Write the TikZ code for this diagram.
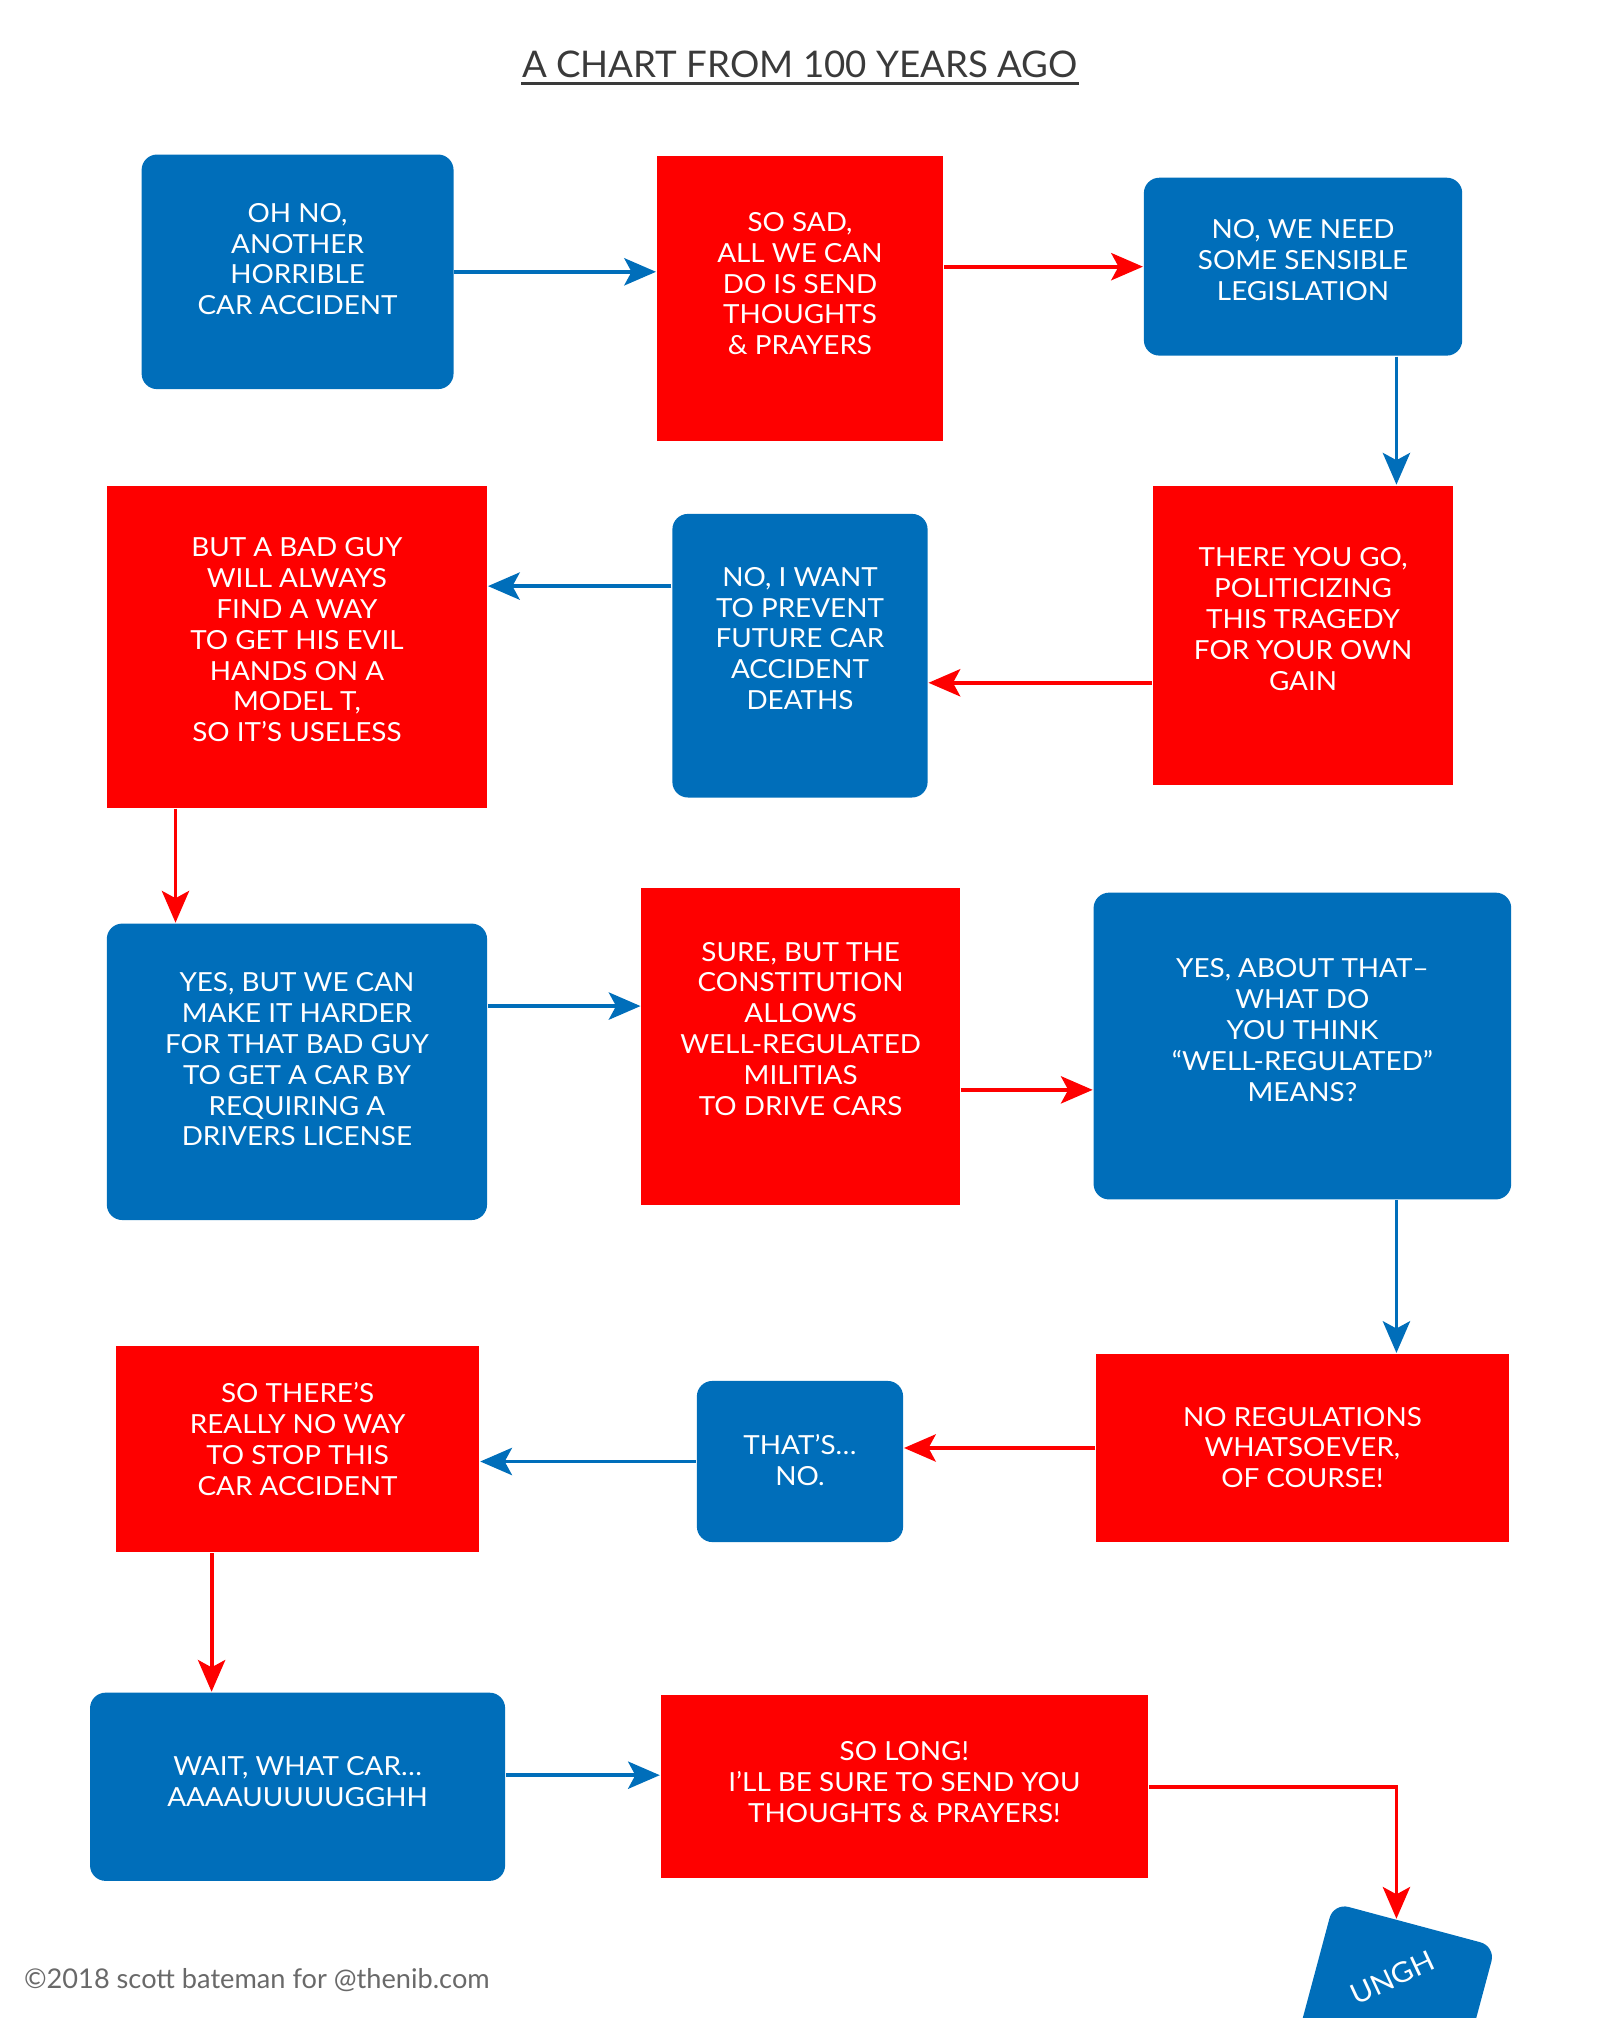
\documentclass[tikz,border=0pt]{standalone}
\usepackage{fontspec}
\setmainfont{Lato}
\newfontfamily\boxfont{Lato}[FakeStretch=1.06]
\usetikzlibrary{arrows.meta}

\definecolor{chartblue}{RGB}{0,110,186}
\definecolor{chartred}{RGB}{254,0,0}
\definecolor{titlegray}{RGB}{58,58,58}
\definecolor{notegray}{RGB}{105,105,105}

% text block of a box, lifted a little above the middle
\newcommand{\boxtext}[2][0pt]{\raisebox{#1}[\height][\depth]{\begin{tabular}{@{}c@{}}#2\end{tabular}}}

\begin{document}
\begin{tikzpicture}[x=0.01cm, y=-0.01cm,
  bluebox/.style={fill=chartblue, text=white, rounded corners=0.12cm, inner sep=0pt,
    font=\boxfont\fontsize{5.8}{6.8}\selectfont},
  redbox/.style={fill=chartred, text=white, inner sep=0pt,
    font=\boxfont\fontsize{5.8}{6.8}\selectfont},
  bluearrow/.style={draw=chartblue, line width=0.85pt, -{Stealth[length=7pt,width=6pt,inset=1.6pt]}},
  redarrow/.style={draw=chartred, line width=0.85pt, -{Stealth[length=7pt,width=6pt,inset=1.6pt]}}]

\useasboundingbox (0,0) rectangle (1242,1566.5);
\clip (0,0) rectangle (1242,1566.5);

%Title
\node[font=\fontsize{8.1}{9.5}\selectfont, text=titlegray, inner xsep=0pt, inner ysep=1pt] (title) at (621,50) {A CHART FROM 100 YEARS AGO};
\draw[titlegray, line width=0.7pt] (title.south west) -- (title.south east);

%Row 1
\node[bluebox, minimum width=2.42cm, minimum height=1.82cm] (ohno) at (231,211)
  {\boxtext[2.1pt]{OH NO,\\ANOTHER\\HORRIBLE\\CAR ACCIDENT}};
\node[redbox, minimum width=2.22cm, minimum height=2.21cm] (sosad) at (621,231.5)
  {\boxtext[2.5pt]{SO SAD,\\ALL WE CAN\\DO IS SEND\\THOUGHTS\\\& PRAYERS}};
\node[bluebox, minimum width=2.47cm, minimum height=1.38cm] (need) at (1011.5,207)
  {\boxtext[0.8pt]{NO, WE NEED\\SOME SENSIBLE\\LEGISLATION}};

%Row 2
\node[redbox, minimum width=2.33cm, minimum height=2.32cm] (politic) at (1011.5,493)
  {\boxtext[2.8pt]{THERE YOU GO,\\POLITICIZING\\THIS TRAGEDY\\FOR YOUR OWN\\GAIN}};
\node[bluebox, minimum width=1.98cm, minimum height=2.2cm] (prevent) at (621,509)
  {\boxtext[3.1pt]{NO, I WANT\\TO PREVENT\\FUTURE CAR\\ACCIDENT\\DEATHS}};
\node[redbox, minimum width=2.95cm, minimum height=2.5cm] (badguy) at (230.5,502)
  {\boxtext[0.8pt]{BUT A BAD GUY\\WILL ALWAYS\\FIND A WAY\\TO GET HIS EVIL\\HANDS ON A\\MODEL T,\\SO IT’S USELESS}};

%Row 3
\node[bluebox, minimum width=2.95cm, minimum height=2.3cm] (harder) at (230.5,832)
  {\boxtext[2pt]{YES, BUT WE CAN\\MAKE IT HARDER\\FOR THAT BAD GUY\\TO GET A CAR BY\\REQUIRING A\\DRIVERS LICENSE}};
\node[redbox, minimum width=2.47cm, minimum height=2.46cm] (sure) at (621.5,812)
  {\boxtext[3.1pt]{SURE, BUT THE\\CONSTITUTION\\ALLOWS\\WELL-REGULATED\\MILITIAS\\TO DRIVE CARS}};
\node[bluebox, minimum width=3.24cm, minimum height=2.38cm] (wellreg) at (1011,812)
  {\boxtext[2.8pt]{YES, ABOUT THAT–\\WHAT DO\\YOU THINK\\“WELL-REGULATED”\\MEANS?}};

%Row 4
\node[redbox, minimum width=3.2cm, minimum height=1.46cm] (noregs) at (1011,1124)
  {\boxtext[-0.6pt]{NO REGULATIONS\\WHATSOEVER,\\OF COURSE!}};
\node[bluebox, minimum width=1.6cm, minimum height=1.25cm] (thats) at (621,1134.5)
  {\boxtext[-0.6pt]{THAT’S…\\NO.}};
\node[redbox, minimum width=2.82cm, minimum height=1.6cm] (noway) at (231,1125)
  {\boxtext[1.4pt]{SO THERE’S\\REALLY NO WAY\\TO STOP THIS\\CAR ACCIDENT}};

%Row 5
\node[bluebox, minimum width=3.22cm, minimum height=1.46cm] (whatcar) at (231,1387)
  {\boxtext[0.5pt]{WAIT, WHAT CAR…\\AAAAUUUUUGGHH}};
\node[redbox, minimum width=3.78cm, minimum height=1.42cm] (solong) at (702,1387)
  {\boxtext[0.3pt]{SO LONG!\\I’LL BE SURE TO SEND YOU\\THOUGHTS \& PRAYERS!}};

%Falling box
\node[bluebox, rotate=-15, minimum width=1.3cm, minimum height=1.2cm] (ungh) at (1082.5,1552) {};
\node[text=white, rotate=25, font=\boxfont\fontsize{6.2}{7}\selectfont] (unghtext) at (1081,1535) {UNGH};

%Credit
\node[anchor=west, text=notegray, font=\fontsize{6}{7}\selectfont, inner sep=0pt] (credit) at (18,1537) {©2018 scott bateman for @thenib.com};

%Arrows
\coordinate (rail) at (1084,0);
\coordinate (a4) at ([yshift=-0.37cm]politic.west);
\coordinate (a5) at ([yshift=0.54cm]prevent.west);
\coordinate (a6) at ([xshift=0.54cm]badguy.south west);
\coordinate (a7) at ([yshift=0.51cm]harder.east);
\coordinate (a8) at ([yshift=-0.34cm]sure.east);
\coordinate (a12) at ([xshift=0.75cm]noway.south west);
\coordinate (a13) at ([yshift=0.09cm]whatcar.east);

\draw[bluearrow] (ohno.east) -- (ohno.east -| sosad.west);
\draw[redarrow] (sosad.east |- need.west) -- (need.west);
\draw[bluearrow] (need.south -| rail) -- (politic.north -| rail);
\draw[redarrow] (a4) -- (a4 -| prevent.east);
\draw[bluearrow] (a5) -- (a5 -| badguy.east);
\draw[redarrow] (a6) -- (a6 |- harder.north);
\draw[bluearrow] (a7) -- (a7 -| sure.west);
\draw[redarrow] (a8) -- (a8 -| wellreg.west);
\draw[bluearrow] (wellreg.south -| rail) -- (noregs.north -| rail);
\draw[redarrow] (noregs.west) -- (noregs.west -| thats.east);
\draw[bluearrow] (thats.west) -- (thats.west -| noway.east);
\draw[redarrow] (a12) -- (a12 |- whatcar.north);
\draw[bluearrow] (a13) -- (a13 -| solong.west);
\draw[redarrow, shorten >=1.1pt] (solong.east) -- (solong.east -| rail) -- (ungh.north -| rail);
\end{tikzpicture}
\end{document}
